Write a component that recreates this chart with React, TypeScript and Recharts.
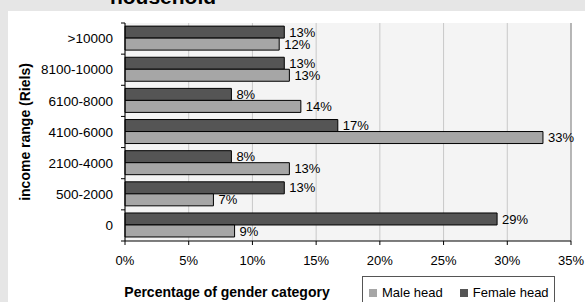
import React from 'react';
import { BarChart, Bar, XAxis, YAxis, CartesianGrid, LabelList, ReferenceLine } from 'recharts';

const categories = ['>10000', '8100-10000', '6100-8000', '4100-6000', '2100-4000', '500-2000', '0'];
const femaleHead = [12.5, 12.5, 8.35, 16.7, 8.35, 12.5, 29.2];
const maleHead = [12.1, 12.9, 13.8, 32.8, 12.9, 6.94, 8.6];
const xTicks = [0, 5, 10, 15, 20, 25, 30, 35];
const seriesNames = ['Male head', 'Female head'];

const DARK = '#555555';
const LIGHT = '#a6a6a6';
const FONT = '"Liberation Sans", Arial, sans-serif';

const W = 585;
const H = 302;
const M = { top: 23, right: 14, bottom: 31, left: 0 };
const XAXIS_H = 30;
const PLOT_H = H - M.top - M.bottom - XAXIS_H;
const BAND = PLOT_H / categories.length;

const data = categories.map((c, i) => ({ cat: c, female: femaleHead[i], male: maleHead[i] }));

const pct = (v: any) => `${Math.round(Number(v))}%`;

const YTick = (props: any) => {
  const { x, y, payload, index } = props;
  const ax = x + 12;
  const half = BAND / 2;
  return (
    <g>
      <text x={x} y={y} dy="0.35em" textAnchor="end" fontSize={13.5} fill="#000" fontFamily={FONT}>
        {payload.value}
      </text>
      <line x1={ax - 4} x2={ax} y1={y - half} y2={y - half} stroke="#000" />
      {index === categories.length - 1 && (
        <line x1={ax - 4} x2={ax} y1={y + half} y2={y + half} stroke="#000" />
      )}
    </g>
  );
};

export default function App() {
  return (
    <div
      style={{
        position: 'absolute',
        left: 0,
        top: 0,
        width: W,
        height: H,
        overflow: 'hidden',
        background: '#e6e6e6',
        fontFamily: FONT,
      }}
    >
      <div style={{ position: 'absolute', left: 8, top: 11, width: W - 8, height: H, background: '#ffffff' }} />
      <svg style={{ position: 'absolute', left: 0, top: 0 }} width={W} height={H}>
        <text x={163} y={4} textAnchor="middle" fontSize={21} fontWeight="bold" fill="#000" fontFamily={FONT}>
          household
        </text>
        <text
          x={25}
          y={132}
          dy="0.35em"
          textAnchor="middle"
          fontSize={14}
          fontWeight="bold"
          fill="#000"
          fontFamily={FONT}
          transform="rotate(-90, 25, 132)"
        >
          income range (Riels)
        </text>
        <text x={227} y={292} dy="0.35em" textAnchor="middle" fontSize={14} fontWeight="bold" fill="#000" fontFamily={FONT}>
          Percentage of gender category
        </text>
      </svg>
      <div style={{ position: 'absolute', left: 0, top: 0 }}>
        <BarChart
          width={W}
          height={H}
          data={data}
          layout="vertical"
          margin={M}
          barCategoryGap="10%"
          barGap={0}
        >
          <CartesianGrid horizontal={false} stroke="#c8c8c8" fill="#f4f4f4" />
          <XAxis
            type="number"
            domain={[0, 35]}
            ticks={xTicks}
            tickFormatter={(v: number) => `${v}%`}
            height={XAXIS_H}
            tickSize={4}
            tickMargin={11}
            axisLine={{ stroke: '#000' }}
            tickLine={{ stroke: '#000' }}
            tick={{ fill: '#000', fontSize: 13, fontFamily: FONT }}
            interval={0}
          />
          <XAxis
            xAxisId="top"
            orientation="top"
            type="number"
            domain={[0, 35]}
            height={0}
            tick={false}
            tickLine={false}
            axisLine={{ stroke: '#8c8c8c' }}
          />
          <YAxis
            type="category"
            dataKey="cat"
            width={125}
            tickSize={4}
            tickMargin={8}
            tickLine={{ stroke: 'none' }}
            axisLine={{ stroke: '#000' }}
            tick={<YTick />}
            interval={0}
          />
          <ReferenceLine x={35} stroke="#8c8c8c" />
          <Bar dataKey="female" name={seriesNames[1]} fill={DARK} stroke="#000" strokeWidth={1} isAnimationActive={false}>
            <LabelList dataKey="female" position="right" offset={5} formatter={pct} fill="#000" fontSize={13} fontFamily={FONT} />
          </Bar>
          <Bar dataKey="male" name={seriesNames[0]} fill={LIGHT} stroke="#000" strokeWidth={1} isAnimationActive={false}>
            <LabelList dataKey="male" position="right" offset={5} formatter={pct} fill="#000" fontSize={13} fontFamily={FONT} />
          </Bar>
        </BarChart>
      </div>
      <div
        style={{
          position: 'absolute',
          left: 362,
          top: 276,
          width: 193,
          height: 30,
          boxSizing: 'border-box',
          border: '1px solid #555',
          background: '#fff',
          display: 'flex',
          alignItems: 'flex-start',
          paddingTop: 8,
          paddingLeft: 6,
          fontSize: 13,
          color: '#000',
          lineHeight: '15px',
          whiteSpace: 'nowrap',
        }}
      >
        {seriesNames.map((n, i) => (
          <div
            key={n}
            style={{ display: 'flex', alignItems: 'center', flexShrink: 0, marginRight: i === 0 ? 17 : 0 }}
          >
            <span
              style={{
                display: 'inline-block',
                width: 8,
                height: 8,
                background: i === 0 ? LIGHT : DARK,
                marginRight: 5,
                flexShrink: 0,
              }}
            />
            <span>{n}</span>
          </div>
        ))}
      </div>
    </div>
  );
}
